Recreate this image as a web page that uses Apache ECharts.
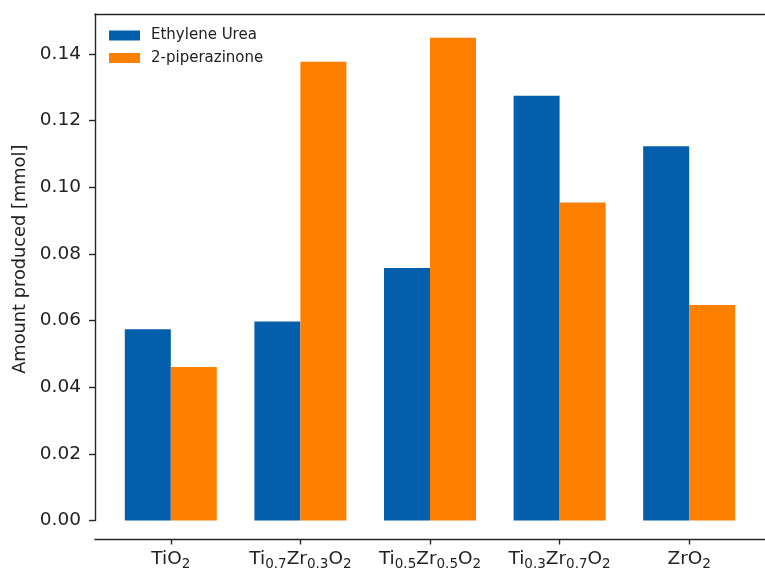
<!DOCTYPE html>
<html>
<head>
<meta charset="utf-8">
<script src="https://cdn.jsdelivr.net/npm/echarts@6/dist/echarts.min.js"></script>
<style>
  html, body { margin: 0; padding: 0; background: #fff; }
  #chart { width: 765px; height: 572px; }
</style>
</head>
<body>
<div id="chart"></div>
<script>
// Catalyst compositions; the axis labels use rich-text subscripts
const categories = ['TiO2', 'Ti0.7Zr0.3O2', 'Ti0.5Zr0.5O2', 'Ti0.3Zr0.7O2', 'ZrO2'];
const categoryLabels = [
  'TiO{s|2}',
  'Ti{s|0.7}Zr{s|0.3}O{s|2}',
  'Ti{s|0.5}Zr{s|0.5}O{s|2}',
  'Ti{s|0.3}Zr{s|0.7}O{s|2}',
  'ZrO{s|2}'
];
// Amounts produced [mmol]
const ethyleneUrea = [0.0574, 0.0597, 0.0758, 0.1275, 0.1123];
const piperazinone = [0.0461, 0.1377, 0.1449, 0.0954, 0.0647];
const yTicks = [0, 0.02, 0.04, 0.06, 0.08, 0.10, 0.12, 0.14];

const positions = categories.map((_, i) => i);
const font = 'DejaVu Sans';
const spine = { color: '#262626', width: 1.4 };

const chart = echarts.init(document.getElementById('chart'));
chart.setOption({
  animation: false,
  backgroundColor: '#fff',
  textStyle: { fontFamily: font },
  grid: { left: 95, right: -12, top: 14, bottom: 51.5, containLabel: false },
  legend: {
    left: 104, top: 23, orient: 'vertical', itemWidth: 31, itemHeight: 10, itemGap: 7.5,
    icon: 'rect',
    textStyle: { fontFamily: font, fontSize: 15, color: '#222', padding: [0, 0, 0, 6] },
    data: ['Ethylene Urea', '2-piperazinone']
  },
  xAxis: [{
    type: 'value', min: -0.585, max: 4.585, offset: 19,
    splitLine: { show: false },
    axisLine: { show: true, onZero: false, lineStyle: spine },
    axisTick: { show: true, customValues: positions, length: 5, lineStyle: spine },
    axisLabel: {
      customValues: positions, margin: 8, color: '#222',
      formatter: v => categoryLabels[Math.round(v)],
      rich: {
        s: { fontSize: 13.5, fontFamily: font, color: '#222', padding: [10, 0, 0, 0] }
      },
      fontSize: 18.5, fontFamily: font
    }
  }, {
    type: 'value', position: 'top', min: -0.585, max: 4.585,
    axisLine: { show: true, onZero: false, lineStyle: spine },
    axisTick: { show: false }, axisLabel: { show: false }, splitLine: { show: false }
  }],
  yAxis: {
    type: 'value', min: 0, max: 0.152, interval: 0.02,
    name: 'Amount produced [mmol]', nameLocation: 'middle', nameGap: 64,
    nameTextStyle: { fontFamily: font, fontSize: 17.8, color: '#222', padding: [0, 0, 0, 16] },
    splitLine: { show: false },
    axisLine: { show: true, onZero: false, lineStyle: spine },
    axisTick: { show: true, length: 6, lineStyle: spine, customValues: yTicks },
    axisLabel: { customValues: yTicks, fontSize: 18.5, fontFamily: font, color: '#222', margin: 14,
      formatter: v => v.toFixed(2) }
  },
  series: [{
    name: 'Ethylene Urea', type: 'bar', barWidth: 46, barGap: '0%',
    itemStyle: { color: '#035eac' },
    data: positions.map(i => [i, ethyleneUrea[i]])
  }, {
    name: '2-piperazinone', type: 'bar', barWidth: 46, barGap: '0%',
    itemStyle: { color: '#ff7f00' },
    data: positions.map(i => [i, piperazinone[i]])
  }]
});
</script>
</body>
</html>
